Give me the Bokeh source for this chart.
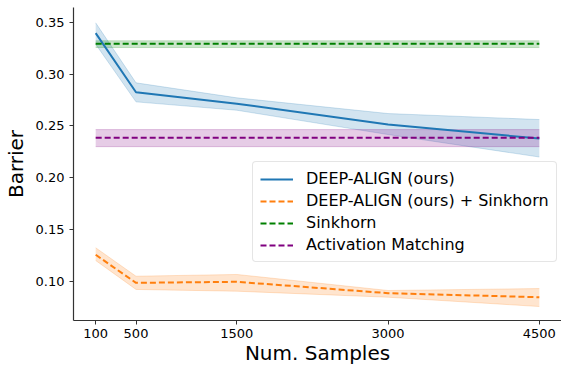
from bokeh.plotting import figure
from bokeh.models import ColumnDataSource, Legend, LegendItem, FixedTicker, Range1d, CustomJSTickFormatter
from bokeh.embed import file_html
from bokeh.resources import INLINE

samples = [100, 500, 1500, 3000, 4500]
xticks = [100, 500, 1500, 3000, 4500]
yticks = [0.10, 0.15, 0.20, 0.25, 0.30, 0.35]

deep_mean = [0.3397, 0.2826, 0.2715, 0.2514, 0.2378]
deep_lo = [0.329, 0.2733, 0.2652, 0.2417, 0.2200]
deep_hi = [0.3497, 0.2917, 0.2772, 0.2620, 0.2562]

sink_deep_mean = [0.1255, 0.0984, 0.0994, 0.0884, 0.0845]
sink_deep_lo = [0.1200, 0.0920, 0.0903, 0.0845, 0.0755]
sink_deep_hi = [0.1323, 0.1048, 0.1065, 0.0910, 0.0929]

sink_mean = [0.3294] * 5
sink_lo = [0.3258] * 5
sink_hi = [0.3323] * 5

act_mean = [0.2385] * 5
act_lo = [0.2300] * 5
act_hi = [0.2465] * 5

FONT = "DejaVu Sans"

p = figure(frame_width=488, frame_height=313, output_backend="svg", toolbar_location=None,
           x_range=Range1d(-120, 4720), y_range=Range1d(0.0620, 0.3645),
           min_border_left=70, min_border_right=1, min_border_top=7, min_border_bottom=47)
p.outline_line_color = None
p.xgrid.visible = False
p.ygrid.visible = False

def band(lo, hi, color):
    src = ColumnDataSource(dict(x=samples, lo=lo, hi=hi))
    p.varea(x="x", y1="lo", y2="hi", source=src, fill_color=color, fill_alpha=0.2)
    p.line(x="x", y="hi", source=src, line_color=color, line_alpha=0.2, line_width=1)
    p.line(x="x", y="lo", source=src, line_color=color, line_alpha=0.2, line_width=1)

band(deep_lo, deep_hi, "#1f77b4")
band(sink_deep_lo, sink_deep_hi, "#ff7f0e")
band(sink_lo, sink_hi, "#008000")
band(act_lo, act_hi, "#800080")

r1 = p.line(samples, deep_mean, line_color="#1f77b4", line_width=2)
r2 = p.line(samples, sink_deep_mean, line_color="#ff7f0e", line_width=2, line_dash="6 3")
r3 = p.line(samples, sink_mean, line_color="#008000", line_width=2, line_dash="6 3")
r4 = p.line(samples, act_mean, line_color="#800080", line_width=2, line_dash="6 3")

legend = Legend(items=[
    LegendItem(label="DEEP-ALIGN (ours)", renderers=[r1]),
    LegendItem(label="DEEP-ALIGN (ours) + Sinkhorn", renderers=[r2]),
    LegendItem(label="Sinkhorn", renderers=[r3]),
    LegendItem(label="Activation Matching", renderers=[r4]),
], location=(179, 58))
legend.label_text_font = FONT
legend.label_text_font_size = "16px"
legend.label_text_color = "#000000"
legend.glyph_width = 33
legend.glyph_height = 18
legend.spacing = 3
legend.padding = 7
legend.margin = 0
legend.label_standoff = 13
legend.border_line_color = "#cccccc"
legend.border_line_width = 1
legend.background_fill_alpha = 0.8
legend.border_radius = 4
p.add_layout(legend)

for ax in (p.xaxis[0], p.yaxis[0]):
    ax.major_label_text_font = FONT
    ax.major_label_text_font_size = "13px"
    ax.major_label_text_color = "#000000"
    ax.axis_label_text_font = FONT
    ax.axis_label_text_font_size = "20px"
    ax.axis_label_text_font_style = "normal"
    ax.axis_label_text_color = "#000000"
    ax.minor_tick_line_color = None
    ax.major_tick_in = 0
    ax.major_tick_out = 4
    ax.axis_line_color = "#333333"
    ax.axis_line_width = 1.2
    ax.major_tick_line_color = "#333333"

p.xaxis.ticker = FixedTicker(ticks=xticks)
p.yaxis.ticker = FixedTicker(ticks=yticks)
p.yaxis.formatter = CustomJSTickFormatter(code="return tick.toFixed(2);")
p.xaxis.axis_label = "Num. Samples"
p.yaxis.axis_label = "Barrier"
p.xaxis.major_label_standoff = 4
p.yaxis.major_label_standoff = 5
p.xaxis.axis_label_standoff = 0
p.yaxis.axis_label_standoff = 5

open("out.html", "w").write(file_html(p, INLINE))
